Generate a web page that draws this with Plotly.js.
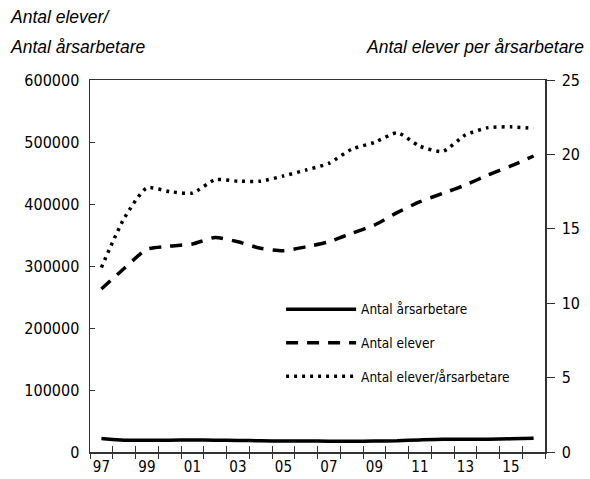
<!DOCTYPE html>
<html>
<head>
<meta charset="utf-8">
<script src="https://cdn.plot.ly/plotly-3.0.1.min.js"></script>
<style>html,body{margin:0;padding:0;background:#fff;}#chart{width:590px;height:479px;}</style>
</head>
<body>
<div id="chart"></div>
<script>
// Data
const years = [1997,1998,1999,2000,2001,2002,2003,2004,2005,2006,2007,2008,2009,2010,2011,2012,2013,2014,2015,2016];
const antalArsarbetare = [21900,19000,18800,19000,19300,19100,18700,18200,17700,17600,17500,17400,17700,18100,19500,20600,20400,20700,21200,22000];
const antalElever = [263000,296000,327000,332000,335500,346000,339000,328500,324700,331000,339000,352700,366000,386000,403700,417000,430600,446800,461300,477400];
const eleverPerArsarbetare = [12.4,15.7,17.75,17.5,17.4,18.3,18.2,18.2,18.55,18.95,19.4,20.35,20.8,21.45,20.55,20.2,21.3,21.8,21.85,21.75];
const labelYears = [1997,1999,2001,2003,2005,2007,2009,2011,2013,2015];
const labelText = ['97','99','01','03','05','07','09','11','13','15'];
const boundaries = [1996.5,1997.5,1998.5,1999.5,2000.5,2001.5,2002.5,2003.5,2004.5,2005.5,2006.5,2007.5,2008.5,2009.5,2010.5,2011.5,2012.5,2013.5,2014.5,2015.5,2016.5];
const leftTicks = [0,100000,200000,300000,400000,500000,600000];
const rightTicks = [0,5,10,15,20,25];

const narrow = '"DejaVu Sans Condensed", "Liberation Sans", sans-serif';
const italicFont = '"Liberation Sans", Arial, sans-serif';
const axisCol = '#333';

const traces = [
  {x: years, y: antalArsarbetare, name: 'Antal årsarbetare', type: 'scatter', mode: 'lines',
   line: {color: '#000', width: 3.5, shape: 'spline', smoothing: 0.6}, xaxis: 'x', yaxis: 'y', legendgroup: 'a'},
  {x: years, y: antalElever, name: 'Antal elever', type: 'scatter', mode: 'lines',
   line: {color: '#000', width: 3.5, dash: '12px,9px', shape: 'spline', smoothing: 0.6}, xaxis: 'x', yaxis: 'y', legendgroup: 'b'},
  {x: years, y: eleverPerArsarbetare, name: 'Antal elever/årsarbetare', type: 'scatter', mode: 'lines',
   line: {color: '#000', width: 3.5, dash: '3px,5px', shape: 'spline', smoothing: 0.6}, xaxis: 'x2', yaxis: 'y2', legendgroup: 'c'}
];

const layout = {
  width: 590, height: 479,
  margin: {l: 90, r: 45, t: 80, b: 27},
  paper_bgcolor: '#fff', plot_bgcolor: '#fff',
  showlegend: true,
  legend: {x: 0.42, y: 0.425, xanchor: 'left', yanchor: 'top', font: {family: narrow, size: 13.5, color: '#000'},
           bgcolor: 'rgba(0,0,0,0)', tracegroupgap: 13, itemwidth: 70},
  font: {family: narrow, size: 16, color: '#000'},
  xaxis: {range: [1996.5, 2016.5], tickmode: 'array', tickvals: labelYears, ticktext: labelText,
          ticks: '', showline: true, linecolor: axisCol, linewidth: 1.5, mirror: true, showgrid: false, zeroline: false,
          tickfont: {family: narrow, size: 15}, ticklabelstandoff: 0,
          minor: {tickmode: 'array', tickvals: boundaries, ticks: 'outside', ticklen: 5, tickwidth: 1, tickcolor: axisCol, showgrid: false}},
  xaxis2: {range: [1996.5, 2016.5], overlaying: 'x', tickmode: 'array', tickvals: boundaries, ticks: 'inside', ticklen: 6,
           tickwidth: 1, tickcolor: axisCol, showticklabels: false, showline: false, showgrid: false, zeroline: false},
  yaxis: {range: [0, 600000], tickmode: 'array', tickvals: leftTicks, tickformat: 'd', ticks: 'inside', ticklen: 5,
          tickcolor: axisCol, showline: true, linecolor: axisCol, linewidth: 1.5, showgrid: false, zeroline: false,
          tickfont: {family: narrow, size: 16}, ticklabelstandoff: 6},
  yaxis2: {range: [0, 25], overlaying: 'y', side: 'right', tickmode: 'array', tickvals: rightTicks, ticks: 'outside', ticklen: 8,
           tickcolor: axisCol, showline: true, linecolor: axisCol, linewidth: 1.5, showgrid: false, zeroline: false,
           tickfont: {family: narrow, size: 16}, ticklabelstandoff: 4},
  annotations: [
    {text: 'Antal elever/', xref: 'paper', yref: 'paper', x: -0.18, y: 1.169, xanchor: 'left', yanchor: 'middle', showarrow: false,
     font: {family: italicFont, size: 17.5, color: '#000', style: 'italic'}},
    {text: 'Antal årsarbetare', xref: 'paper', yref: 'paper', x: -0.18, y: 1.089, xanchor: 'left', yanchor: 'middle', showarrow: false,
     font: {family: italicFont, size: 17.5, color: '#000', style: 'italic'}},
    {text: 'Antal elever per årsarbetare', xref: 'paper', yref: 'paper', x: 1.09, y: 1.089, xanchor: 'right', yanchor: 'middle', showarrow: false,
     font: {family: italicFont, size: 17.5, color: '#000', style: 'italic'}}
  ]
};

Plotly.newPlot('chart', traces, layout, {displayModeBar: false, staticPlot: true});
</script>
</body>
</html>
